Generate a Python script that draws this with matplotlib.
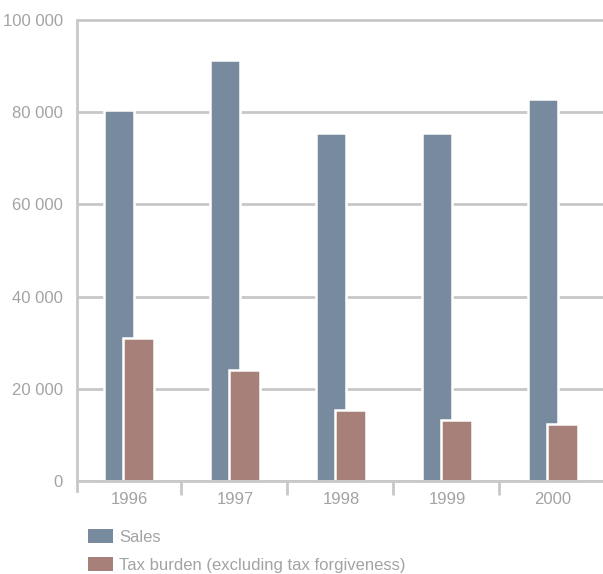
import numpy as np
import matplotlib
matplotlib.use('Agg')
import matplotlib.pyplot as plt
from matplotlib.patches import Patch

years = ['1996', '1997', '1998', '1999', '2000']
sales = [80500, 91300, 75500, 75500, 82900]
tax_burden = [31100, 24100, 15300, 13200, 12400]
y_ticks = [0, 20000, 40000, 60000, 80000, 100000]

sales_color = '#788b9e'
tax_color = '#a68079'
grid_color = '#c8c8c8'
text_color = '#a3a3a3'

plt.rcParams['font.family'] = ['Liberation Sans', 'DejaVu Sans']

fig = plt.figure(figsize=(6.03, 5.74), dpi=100)
# axes placed in pixel terms: left spine at x=77, zero line at y=481
W, H = 603, 574
left, bottom = 77 / W, (H - 481) / H
ax = fig.add_axes([left, bottom, 1 - left, 465.6 / H])

x = np.arange(len(years))
bw = 0.29
ax.bar(x - 0.085, sales, width=bw, color=sales_color, edgecolor='white',
       linewidth=1.8, zorder=2)
ax.bar(x + 0.10, tax_burden, width=bw, color=tax_color, edgecolor='white',
       linewidth=1.8, zorder=3)

ax.set_xlim(-0.48, 4.48)
ax.set_ylim(0, 101000)

# horizontal grid
ax.set_yticks(y_ticks)
ax.set_yticklabels([f'{v:,}'.replace(',', ' ') for v in y_ticks])
ax.yaxis.grid(True, color=grid_color, linewidth=2, zorder=1)
ax.set_axisbelow(True)
ax.tick_params(axis='y', length=0, pad=10, labelsize=12, labelcolor=text_color)

# category separators on the x axis
ax.set_xticks(np.arange(0.5, len(years) - 1, 1.0))
ax.set_xticks(x + 0.01, minor=True)
ax.set_xticklabels([])
ax.set_xticklabels(years, minor=True)
ax.tick_params(axis='x', which='major', direction='out', length=10,
               width=2, color=grid_color)
ax.tick_params(axis='x', which='minor', length=0, pad=8, labelsize=12,
               labelcolor=text_color)

for side in ['top', 'right']:
    ax.spines[side].set_visible(False)
for side in ['left', 'bottom']:
    ax.spines[side].set_color(grid_color)
    ax.spines[side].set_linewidth(2)
    ax.spines[side].set_zorder(4)
ax.spines['left'].set_bounds(-2200, 100000)
ax.spines['left'].set_position(('data', -0.48))

handles = [Patch(facecolor=sales_color, edgecolor='none', label='Sales'),
           Patch(facecolor=tax_color, edgecolor='none',
                 label='Tax burden (excluding tax forgiveness)')]
fig.legend(handles=handles, loc='upper left', bbox_to_anchor=(76 / W, 1 - 517 / H),
           frameon=False, fontsize=12, labelcolor=text_color,
           handlelength=1.5, handleheight=0.95, handletextpad=0.4,
           labelspacing=0.75, borderpad=0.2)

fig.savefig('out.png', dpi=100)
